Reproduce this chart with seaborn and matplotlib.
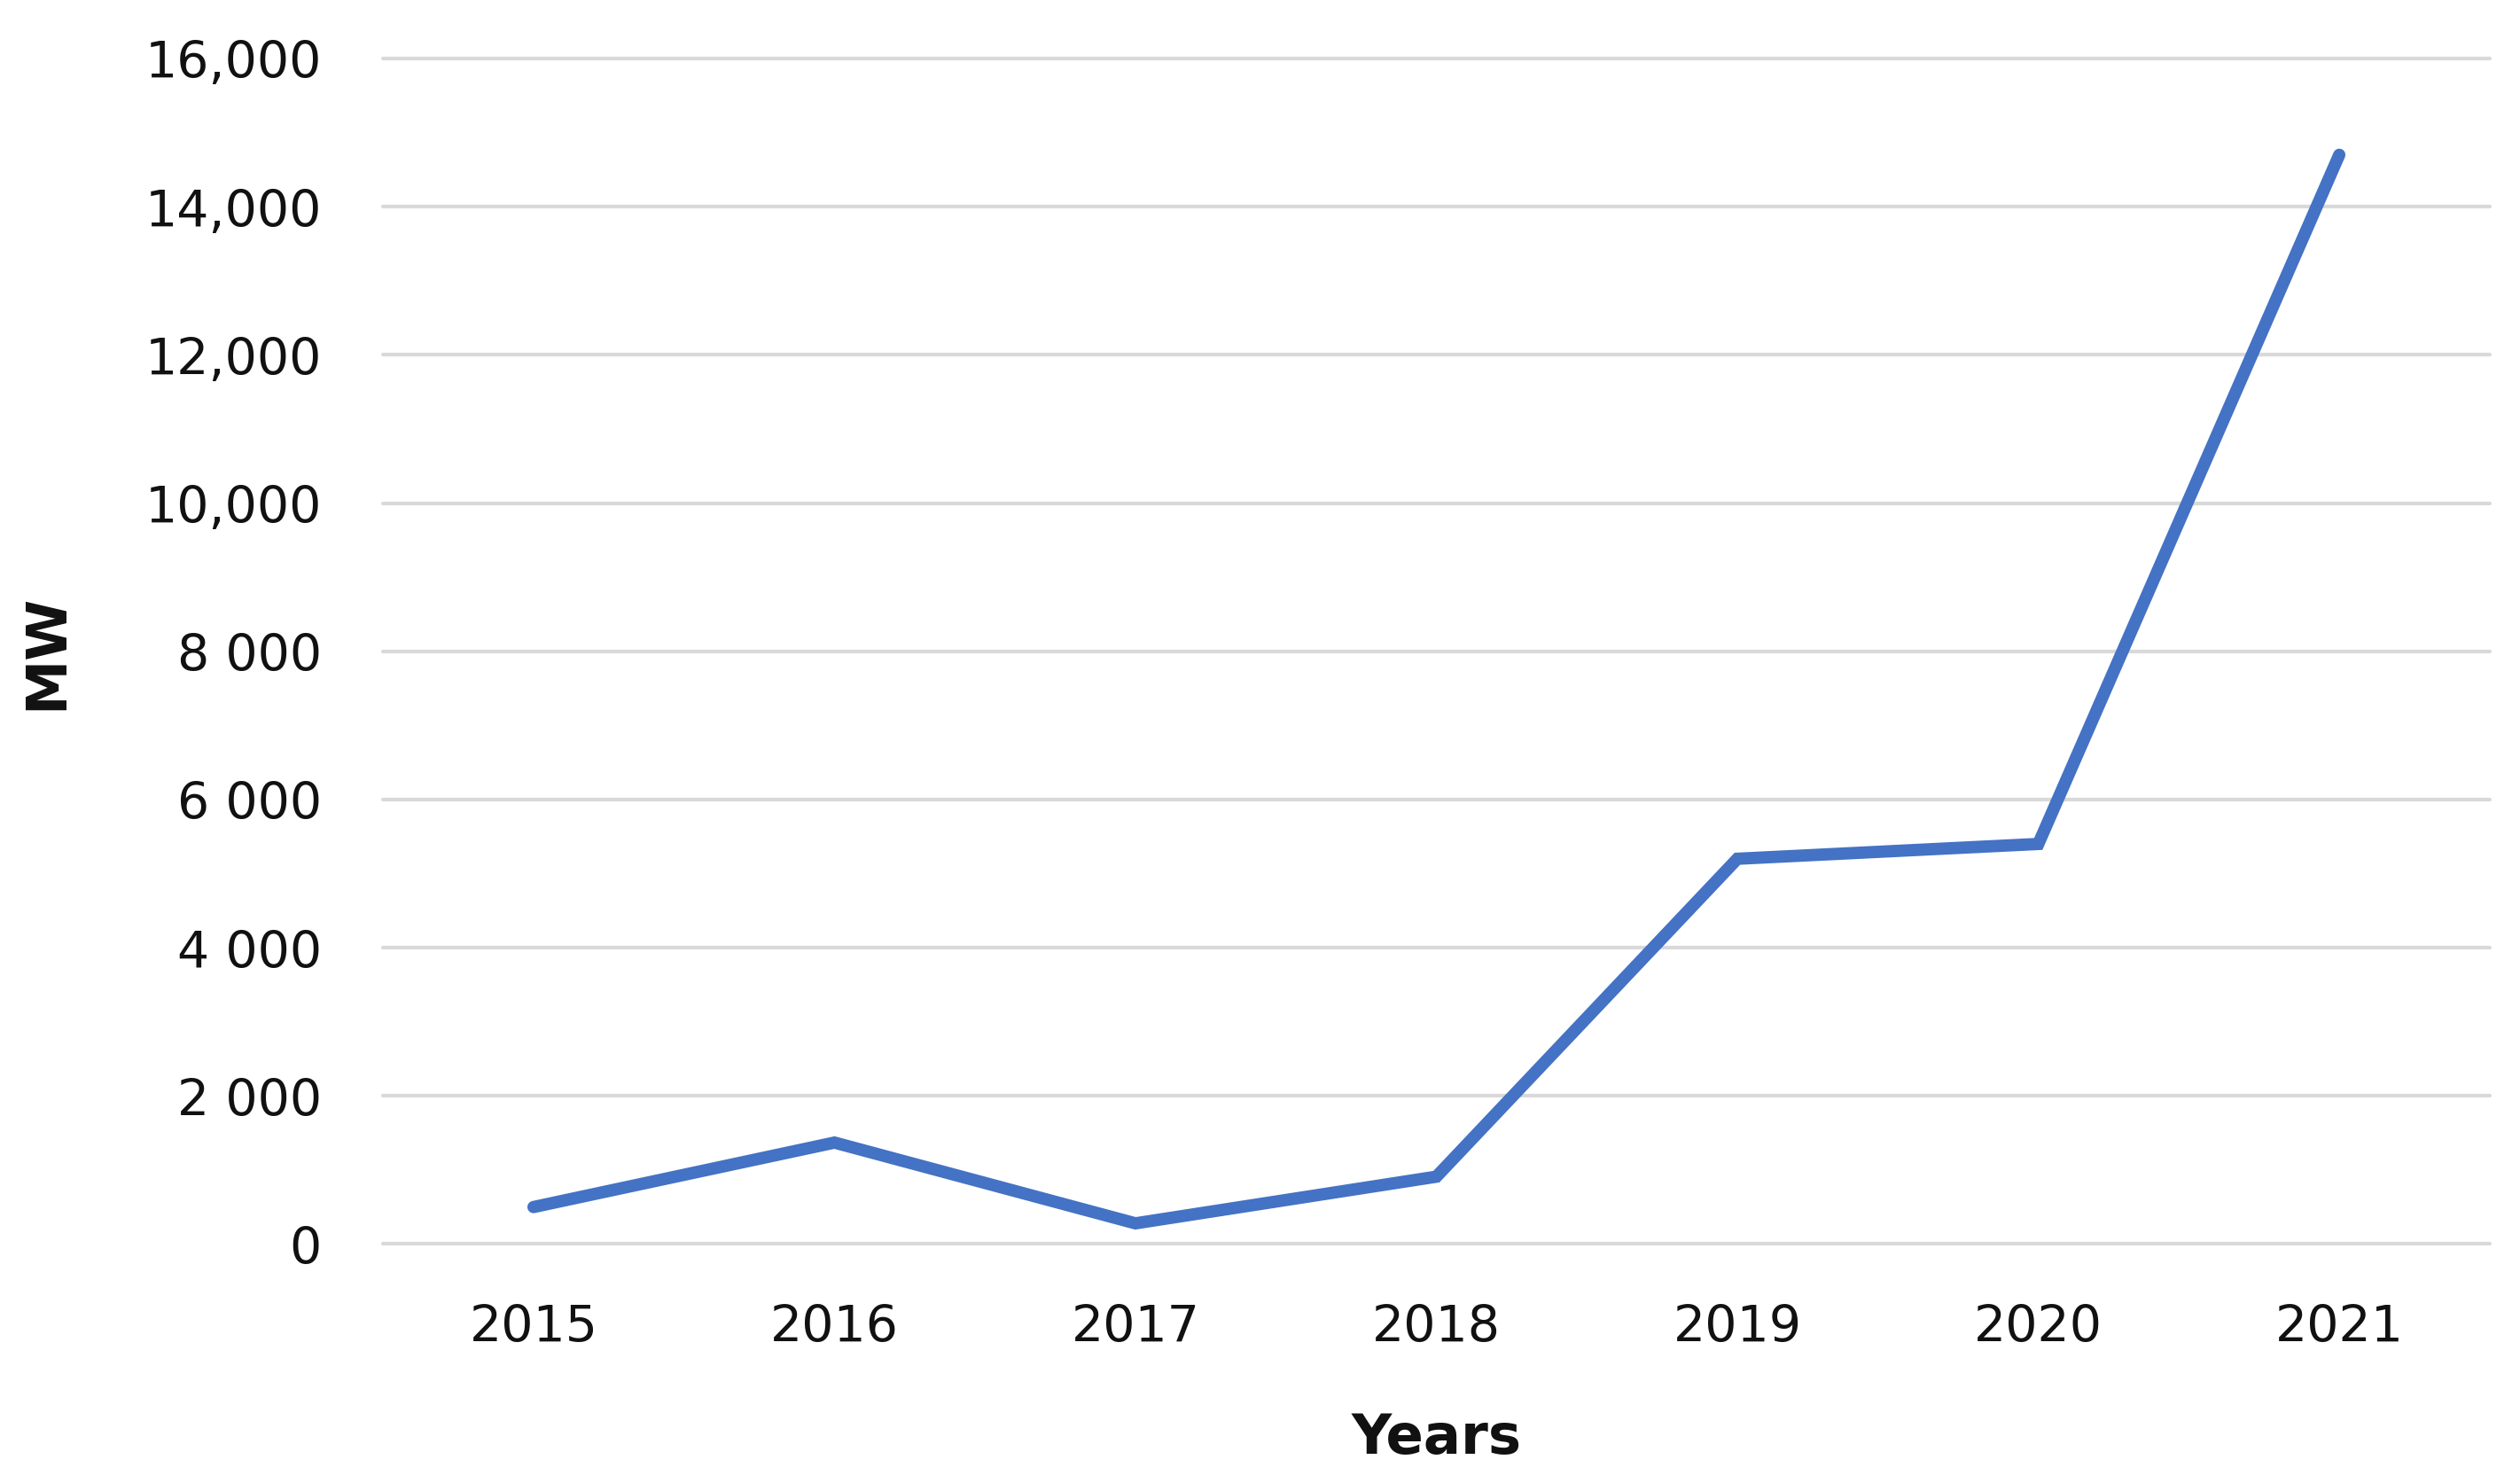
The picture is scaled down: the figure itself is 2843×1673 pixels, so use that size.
import pandas as pd
import matplotlib.pyplot as plt
import seaborn as sns

# values
years = ["2015", "2016", "2017", "2018", "2019", "2020", "2021"]
mw = [500, 1370, 280, 910, 5200, 5400, 14700]
y_ticks = [0, 2000, 4000, 6000, 8000, 10000, 12000, 14000, 16000]
y_tick_labels = ["0", "2 000", "4 000", "6 000", "8 000", "10,000", "12,000", "14,000", "16,000"]

df = pd.DataFrame({"Years": years, "MW": mw})

sns.set_theme(style="white")
plt.rcParams['font.family'] = ['DejaVu Sans']

fig, ax = plt.subplots(figsize=(28.43, 16.74), dpi=100)
fig.subplots_adjust(left=0.152, right=0.988, top=0.96, bottom=0.161)

sns.lineplot(data=df, x="Years", y="MW", color="#4472C4", linewidth=10, ax=ax,
             solid_joinstyle="miter", solid_capstyle="round")

ax.set_xlim(-0.5, len(years) - 0.5)
ax.set_ylim(0, 16000)
ax.set_yticks(y_ticks)
ax.set_yticklabels(y_tick_labels)
ax.yaxis.grid(True, color="#D9D9D9", linewidth=3)
for gl in ax.yaxis.get_gridlines():
    gl.set_clip_on(False)
ax.set_axisbelow(True)
sns.despine(ax=ax, left=True, bottom=True)
ax.tick_params(axis="both", length=0, labelsize=41, colors="#111111")
ax.tick_params(axis="y", pad=50)
ax.tick_params(axis="x", pad=48)

ax.set_xlabel("Years", fontsize=45, fontweight="bold", color="#111111")
ax.set_ylabel("MW", fontsize=45, fontweight="bold", color="#111111")
ax.xaxis.set_label_coords(0.5, -0.141)
ax.yaxis.set_label_coords(-0.147, 0.5)

plt.savefig("out.png", dpi=100)
